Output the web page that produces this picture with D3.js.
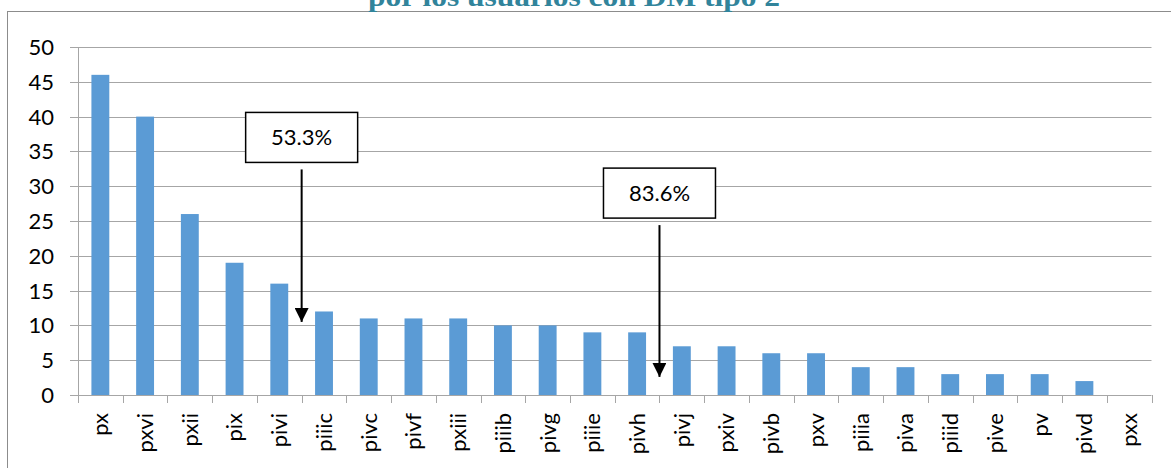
<!DOCTYPE html>
<html>
<head>
<meta charset="utf-8">
<script src="https://cdn.jsdelivr.net/npm/d3@7"></script>
<style>
  body { margin: 0; background: #fff; }
  svg { display: block; }
</style>
</head>
<body>
<div id="chart"></div>
<script>
// Chart data
const categories = ['px', 'pxvi', 'pxii', 'pix', 'pivi', 'piiic', 'pivc', 'pivf', 'pxiii', 'piiib', 'pivg', 'piiie',
    'pivh', 'pivj', 'pxiv', 'pivb', 'pxv', 'piiia', 'piva', 'piiid', 'pive', 'pv', 'pivd', 'pxx'];
const values = [46, 40, 26, 19, 16, 12, 11, 11, 11, 10, 10, 9, 9, 7, 7, 6, 6, 4, 4, 3, 3, 3, 2, 0];
const yTicks = [0, 5, 10, 15, 20, 25, 30, 35, 40, 45, 50];
// Annotations: label, category after which the arrow sits, box top value, arrow tip value
const annoLabels = ['53.3%', '83.6%'];
const annoAfter = ['pivi', 'pivh'];
const annoTop = [40.6, 32.6];
const annoTip = [10.5, 2.6];
const title = 'por los usuarios con DM tipo 2';

const width = 1171, height = 468;
const margin = {left: 78, right: 20, top: 47, bottom: 73};

const svg = d3.select('#chart').append('svg')
    .attr('width', width)
    .attr('height', height);

// Outer chart border (only top/left visible in the crop)
svg.append('rect')
    .attr('x', 7.5).attr('y', 11.5)
    .attr('width', width + 10).attr('height', height + 10)
    .attr('fill', 'none')
    .attr('stroke', '#8c8c8c')
    .attr('stroke-width', 1);

// Title, cut by the top of the frame
svg.append('text')
    .attr('x', 574).attr('y', 6)
    .attr('text-anchor', 'middle')
    .attr('font-family', 'Liberation Serif, DejaVu Serif, serif')
    .attr('font-weight', 'bold')
    .attr('font-size', 28)
    .attr('textLength', 412)
    .attr('lengthAdjust', 'spacingAndGlyphs')
    .attr('fill', '#31849b')
    .text(title);

const x = d3.scaleBand()
    .domain(categories)
    .range([margin.left, 1151.5])
    .paddingInner(0.6)
    .paddingOuter(0.3);

const y = d3.scaleLinear()
    .domain([0, 50])
    .range([395, 47]);

// Gridlines
svg.append('g')
    .selectAll('line')
    .data(yTicks)
    .join('line')
    .attr('x1', 70).attr('x2', 1151.5)
    .attr('y1', d => Math.round(y(d)) + 0.5)
    .attr('y2', d => Math.round(y(d)) + 0.5)
    .attr('stroke', '#a6a6a6')
    .attr('stroke-width', 1);

// Y axis line
svg.append('line')
    .attr('x1', margin.left + 0.5).attr('x2', margin.left + 0.5)
    .attr('y1', y(50)).attr('y2', y(0))
    .attr('stroke', '#a6a6a6');

// Y tick labels
svg.append('g')
    .selectAll('text')
    .data(yTicks)
    .join('text')
    .attr('x', 54)
    .attr('y', d => y(d))
    .attr('dy', '0.36em')
    .attr('text-anchor', 'end')
    .attr('font-family', 'Lato, sans-serif')
    .attr('font-size', 22)
    .attr('fill', '#000')
    .text(d => d);

// X tick marks at band boundaries
const step = x.step();
const boundaries = d3.range(categories.length + 1).map(i => margin.left + i * step);
svg.append('g')
    .selectAll('line')
    .data(boundaries)
    .join('line')
    .attr('x1', d => Math.round(d) + 0.5).attr('x2', d => Math.round(d) + 0.5)
    .attr('y1', y(0)).attr('y2', y(0) + 8)
    .attr('stroke', '#a6a6a6');

// Bars
svg.append('g')
    .selectAll('rect')
    .data(values)
    .join('rect')
    .attr('x', (d, i) => x(categories[i]))
    .attr('y', d => y(d))
    .attr('width', x.bandwidth())
    .attr('height', d => y(0) - y(d))
    .attr('fill', '#5b9bd5');

// Category labels, rotated
svg.append('g')
    .selectAll('text')
    .data(categories)
    .join('text')
    .attr('transform', d => `translate(${x(d) + x.bandwidth() / 2},413) rotate(-90)`)
    .attr('dy', '0.36em')
    .attr('text-anchor', 'end')
    .attr('font-family', 'Lato, sans-serif')
    .attr('font-size', 22)
    .attr('fill', '#000')
    .text(d => d);

// Arrow annotations
const defs = svg.append('defs');
defs.append('marker')
    .attr('id', 'arrow')
    .attr('viewBox', '0 0 10 10')
    .attr('refX', 10).attr('refY', 5)
    .attr('markerWidth', 7).attr('markerHeight', 7)
    .attr('markerUnits', 'strokeWidth')
    .attr('orient', 'auto')
    .append('path')
    .attr('d', 'M0,0 L10,5 L0,10 z')
    .attr('fill', '#000');

annoLabels.forEach((label, i) => {
    const cx = x(annoAfter[i]) + x.bandwidth() / 2 + step / 2;
    const top = y(annoTop[i]);
    const g = svg.append('g');
    g.append('rect')
        .attr('x', cx - 56).attr('y', top)
        .attr('width', 112).attr('height', 50)
        .attr('fill', '#fff')
        .attr('stroke', '#000')
        .attr('stroke-width', 1.5);
    g.append('text')
        .attr('x', cx).attr('y', top + 25)
        .attr('dy', '0.36em')
        .attr('text-anchor', 'middle')
        .attr('font-family', 'Lato, sans-serif')
        .attr('font-size', 22)
        .attr('fill', '#000')
        .text(label);
    g.append('line')
        .attr('x1', cx).attr('x2', cx)
        .attr('y1', top + 57)
        .attr('y2', y(annoTip[i]))
        .attr('stroke', '#000')
        .attr('stroke-width', 2)
        .attr('marker-end', 'url(#arrow)');
});
</script>
</body>
</html>
